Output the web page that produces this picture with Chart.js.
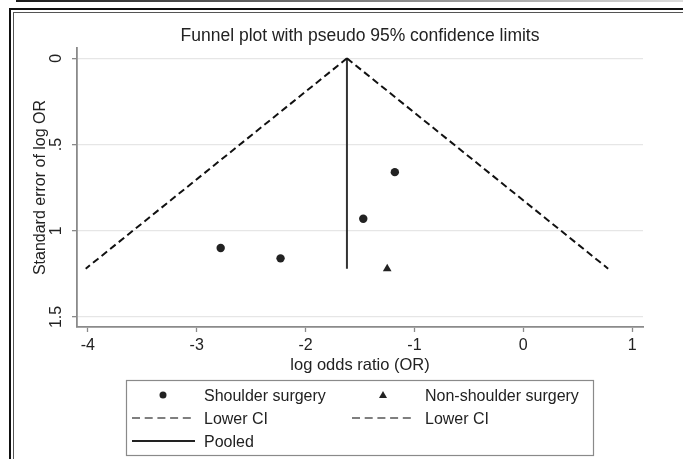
<!DOCTYPE html>
<html>
<head>
<meta charset="utf-8">
<script src="https://cdn.jsdelivr.net/npm/chart.js@4/dist/chart.umd.min.js"></script>
<style>
  body { margin: 0; background: #fff; }
  #wrap { position: relative; width: 683px; height: 459px; overflow: hidden; }
  .topbar { position: absolute; left: 16px; top: 0; width: 667px; height: 2px;
            background: linear-gradient(to right, #1a1a1a, #dcdcdc); }
  .frame1 { position: absolute; left: 9px; top: 8px; width: 700px; height: 500px;
            border: 2px solid #111; box-sizing: border-box; }
  .frame2 { position: absolute; left: 13px; top: 12px; width: 700px; height: 500px;
            border: 1px solid #555; box-sizing: border-box; }
  canvas { position: absolute; left: 0; top: 0; }
</style>
</head>
<body>
<div id="wrap">
  <div class="topbar"></div>
  <div class="frame1"></div>
  <div class="frame2"></div>
  <canvas id="funnel" width="683" height="459"></canvas>
</div>
<script>
// values
var shoulderLogOR = [-2.78, -2.23, -1.47, -1.18];
var shoulderSE = [1.10, 1.16, 0.93, 0.66];
var nonShoulderLogOR = [-1.25];
var nonShoulderSE = [1.22];
var pooledLogOR = [-1.62, -1.62];
var pooledSE = [0, 1.22];
var ciLeftLogOR = [-1.62, -4.02];
var ciRightLogOR = [-1.62, 0.78];
var ciSE = [0, 1.22];

var xTicks = [-4, -3, -2, -1, 0, 1];
var yTicks = [0, 0.5, 1, 1.5];
var yTickLabels = ["0", ".5", "1", "1.5"];

var chartTitle = "Funnel plot with pseudo 95% confidence limits";
var xTitle = "log odds ratio (OR)";
var yTitle = "Standard error of log OR";
var legendLabels = ["Shoulder surgery", "Non-shoulder surgery", "Lower CI", "Lower CI", "Pooled"];

var FONT = "'Liberation Sans', Arial, sans-serif";
var INK = "#222";
var AXIS = "#8a8a8a";

var toPoints = function(xs, ys) {
    var pts = [];
    for (var i = 0; i < xs.length; i++) {
        pts.push({x: xs[i], y: ys[i]});
    }
    return pts;
};

// title, rotated y tick labels and the stata style legend box
var decorPlugin = {
    id: "decor",
    afterDraw: function(chart) {
        var ctx = chart.ctx;
        var area = chart.chartArea;
        var yScale = chart.scales.y;
        ctx.save();

        ctx.fillStyle = INK;
        ctx.font = "17.5px " + FONT;
        ctx.textAlign = "center";
        ctx.textBaseline = "alphabetic";
        ctx.fillText(chartTitle, (area.left + area.right) / 2, 41);

        ctx.font = "16px " + FONT;
        ctx.textBaseline = "middle";
        for (var i = 0; i < yTicks.length; i++) {
            var py = yScale.getPixelForValue(yTicks[i]);
            ctx.save();
            ctx.translate(57, py);
            ctx.rotate(-Math.PI / 2);
            ctx.fillText(yTickLabels[i], 0, 0);
            ctx.restore();
        }

        // legend
        ctx.strokeStyle = "#8a8a8a";
        ctx.lineWidth = 1.2;
        ctx.strokeRect(126.5, 380.5, 467, 75);

        var rows = [395, 418, 441];
        var symX = [132, 352];
        var textX = [204, 425];
        var items = [
            {col: 0, row: 0, kind: "dot"},
            {col: 1, row: 0, kind: "tri"},
            {col: 0, row: 1, kind: "dash"},
            {col: 1, row: 1, kind: "dash"},
            {col: 0, row: 2, kind: "solid"}
        ];
        ctx.textAlign = "left";
        ctx.textBaseline = "alphabetic";
        ctx.font = "16px " + FONT;
        items.forEach(function(it, k) {
            var y = rows[it.row];
            var x0 = symX[it.col];
            var cx = x0 + 31;
            ctx.fillStyle = INK;
            ctx.strokeStyle = INK;
            if (it.kind === "dot") {
                ctx.beginPath();
                ctx.arc(cx, y, 3.5, 0, Math.PI * 2);
                ctx.fill();
            } else if (it.kind === "tri") {
                ctx.beginPath();
                ctx.moveTo(cx, y - 4);
                ctx.lineTo(cx + 4, y + 3);
                ctx.lineTo(cx - 4, y + 3);
                ctx.closePath();
                ctx.fill();
            } else {
                ctx.beginPath();
                ctx.lineWidth = it.kind === "dash" ? 1.4 : 1.8;
                ctx.strokeStyle = it.kind === "dash" ? "#555" : "#222";
                ctx.setLineDash(it.kind === "dash" ? [8, 4.7] : []);
                ctx.moveTo(x0, y);
                ctx.lineTo(x0 + 63, y);
                ctx.stroke();
                ctx.setLineDash([]);
            }
            ctx.fillStyle = INK;
            ctx.fillText(legendLabels[k], textX[it.col], y + 5.5);
        });

        ctx.restore();
    }
};

new Chart(document.getElementById("funnel"), {
    type: "scatter",
    data: {
        datasets: [
            {
                label: legendLabels[2],
                data: toPoints(ciLeftLogOR, ciSE),
                showLine: true,
                borderColor: "#111",
                borderWidth: 2,
                borderDash: [7, 4],
                pointRadius: 0
            },
            {
                label: legendLabels[3],
                data: toPoints(ciRightLogOR, ciSE),
                showLine: true,
                borderColor: "#111",
                borderWidth: 2,
                borderDash: [7, 4],
                pointRadius: 0
            },
            {
                label: legendLabels[4],
                data: toPoints(pooledLogOR, pooledSE),
                showLine: true,
                borderColor: "#333",
                borderWidth: 2,
                pointRadius: 0
            },
            {
                label: legendLabels[0],
                data: toPoints(shoulderLogOR, shoulderSE),
                pointStyle: "circle",
                pointRadius: 4.2,
                backgroundColor: "#222",
                borderColor: "#222",
                borderWidth: 0
            },
            {
                label: legendLabels[1],
                data: toPoints(nonShoulderLogOR, nonShoulderSE),
                pointStyle: "triangle",
                pointRadius: 5,
                backgroundColor: "#222",
                borderColor: "#222",
                borderWidth: 0
            }
        ]
    },
    options: {
        responsive: false,
        animation: false,
        layout: {
            padding: {left: 0, right: 40, top: 48, bottom: 0}
        },
        plugins: {
            legend: {display: false},
            tooltip: {enabled: false},
            title: {display: false}
        },
        scales: {
            x: {
                type: "linear",
                min: -4.1,
                max: 1.1,
                afterBuildTicks: function(scale) {
                    scale.ticks = xTicks.map(function(v) { return {value: v}; });
                },
                afterFit: function(scale) {
                    scale.height = 132;
                },
                grid: {
                    display: true,
                    drawOnChartArea: false,
                    drawTicks: true,
                    tickLength: 5,
                    tickColor: AXIS,
                    tickWidth: 1.3
                },
                border: {display: true, color: AXIS, width: 1.8},
                ticks: {
                    color: INK,
                    font: {family: FONT, size: 16},
                    padding: 4,
                    maxRotation: 0
                },
                title: {
                    display: true,
                    text: xTitle,
                    color: INK,
                    font: {family: FONT, size: 16.5},
                    padding: {top: 0, bottom: 84}
                }
            },
            y: {
                type: "linear",
                reverse: true,
                min: -0.06,
                max: 1.558,
                afterBuildTicks: function(scale) {
                    scale.ticks = yTicks.map(function(v) { return {value: v}; });
                },
                afterFit: function(scale) {
                    scale.width = 77;
                },
                grid: {
                    display: true,
                    drawOnChartArea: true,
                    color: "#e6e6e6",
                    lineWidth: 1.3,
                    drawTicks: true,
                    tickLength: 5,
                    tickColor: AXIS,
                    tickWidth: 1.3
                },
                border: {display: true, color: AXIS, width: 1.8},
                ticks: {display: false},
                title: {
                    display: true,
                    text: yTitle,
                    color: INK,
                    font: {family: FONT, size: 16},
                    padding: {top: 31, bottom: 0}
                }
            }
        }
    },
    plugins: [decorPlugin]
});
</script>
</body>
</html>
